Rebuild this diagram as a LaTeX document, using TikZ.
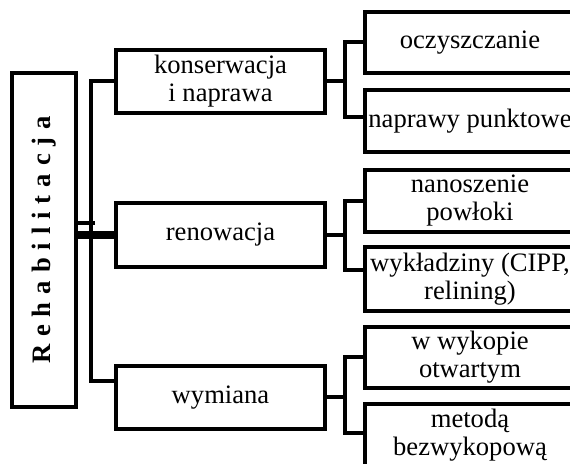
\documentclass[tikz,border=0pt]{standalone}
\usepackage{fontspec}
\setmainfont{Liberation Serif}
\usepackage{tikz}
\usetikzlibrary{positioning,calc}
\usepackage{graphicx}

\tikzset{
  box/.style={draw,line width=2pt,rectangle,align=center,inner sep=0pt,
    font=\fontsize{13.3}{14}\selectfont},
  midbox/.style={box,minimum width=104.5pt,minimum height=31.5pt},
  leafbox/.style={box,minimum width=105pt,minimum height=31pt},
  link/.style={line width=2pt},
  bar/.style={line width=3.8pt}
}

\begin{document}
\begin{tikzpicture}[x=0.5pt,y=-0.5pt]
        \useasboundingbox (0,0) rectangle (570,464);
        \clip (0,0) rectangle (570,464);

        % Root
        \node[box,minimum width=32pt,minimum height=167pt] (root) at (44,240)
            {\rotatebox{90}{\bfseries\spaceskip=0.3em R e h a b i l i t a c j a}};

        % Level 1
        \node[midbox] (kons) at (220.5,81.5) {konserwacja\\i naprawa};
        \node[midbox,minimum height=32pt] (ren) at (220.5,235) {renowacja};
        \node[midbox] (wym) at (220.5,397.5) {wymiana};

        % Level 2
        \node[leafbox,minimum height=30.5pt] (ocz) at (470,42.5) {oczyszczanie};
        \node[leafbox] (pkt) at (470,121.5) {naprawy punktowe};
        \node[leafbox] (pow) at (470,201) {nanoszenie\\powłoki};
        \node[leafbox,minimum height=32pt] (cipp) at (470,279) {wykładziny (CIPP,\\relining)};
        \node[leafbox,minimum height=30.5pt] (wyk) at (470,357.5) {w wykopie\\otwartym};
        \node[leafbox] (bwyk) at (470,435.5) {metodą\\bezwykopową};

        % Root -> level 1
        \draw[link] ([yshift=8.5pt]root.east) -- ++(8.5pt,0);
        \draw[link] (kons.west) -- ++(-11.5pt,0) |- ([yshift=8pt]wym.west);
        \draw[bar] (root.east |- ren.west) -- (ren.west);

        % Level 1 -> level 2
        \draw[link] (kons.east) -- ++(9pt,0);
        \draw[link] (ocz.west) -| ([xshift=9pt]kons.east) |- ([yshift=2pt]pkt.west);
        \draw[link] (ren.east) -- ++(9pt,0);
        \draw[link] (pow.west) -| ([xshift=9pt]ren.east) |- ([yshift=4.5pt]cipp.west);
        \draw[link] (wym.east) -- ++(9pt,0);
        \draw[link] (wyk.west) -| ([xshift=9pt]wym.east) |- ([yshift=1pt]bwyk.west);
    \end{tikzpicture}
\end{document}
